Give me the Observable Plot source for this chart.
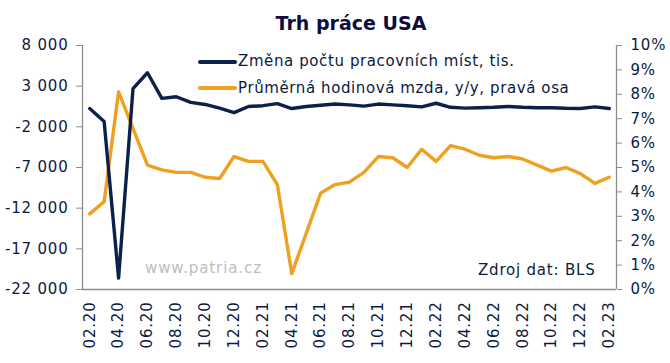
<!DOCTYPE html>
<html>
<head>
<meta charset="utf-8">
<script src="https://cdn.jsdelivr.net/npm/d3@7"></script>
<script src="https://cdn.jsdelivr.net/npm/@observablehq/plot@0.6"></script>
<style>
  body { margin: 0; background: #fff; }
  #wrap { position: relative; width: 670px; height: 363px; font-family: "DejaVu Sans", Verdana, sans-serif; color: #0d1a40; }
  #title { position: absolute; left: 0; top: 0; width: 670px; padding-left: 32px; box-sizing: border-box; height: 36px; line-height: 46px; text-align: center; font-weight: bold; font-size: 19px; color: #0d0d3d; }
  #chart { position: absolute; left: 0; top: 36px; }
  .ov { position: absolute; font-size: 15px; white-space: nowrap; line-height: 18px; letter-spacing: 0.6px; }
  .sw { position: absolute; height: 4px; border-radius: 2px; }
  #chart svg text { letter-spacing: 0.8px; }
</style>
</head>
<body>
<div id="wrap">
  <div id="title">Trh práce USA</div>
  <div id="chart"></div>
  <div class="sw" style="left:198px; top:60px; width:39px; background:#0b2149"></div>
  <div class="ov" style="left:238px; top:52px;">Změna počtu pracovních míst, tis.</div>
  <div class="sw" style="left:198px; top:86px; width:39px; background:#f0a020"></div>
  <div class="ov" style="left:238px; top:79px;">Průměrná hodinová mzda, y/y, pravá osa</div>
  <div class="ov" style="left:145px; top:259px; color:#bdbdbd; letter-spacing:0.9px;">www.patria.cz</div>
  <div class="ov" style="left:478px; top:261px; letter-spacing:0.8px;">Zdroj dat: BLS</div>
</div>
<script>
const months = ["02.20","03.20","04.20","05.20","06.20","07.20","08.20","09.20","10.20","11.20","12.20",
  "01.21","02.21","03.21","04.21","05.21","06.21","07.21","08.21","09.21","10.21","11.21","12.21",
  "01.22","02.22","03.22","04.22","05.22","06.22","07.22","08.22","09.22","10.22","11.22","12.22",
  "01.23","02.23"];
// change in nonfarm payrolls, thousands
const jobs = [250, -1350, -20600, 2700, 4650, 1500, 1700, 1000, 750, 300, -250,
  500, 600, 850, 250, 500, 650, 800, 700, 550, 800, 700, 600,
  450, 900, 400, 300, 350, 400, 500, 400, 350, 350, 280, 250,
  450, 250];
// average hourly earnings, y/y %
const wages = [3.1, 3.6, 8.1, 6.6, 5.1, 4.9, 4.8, 4.8, 4.6, 4.55, 5.45,
  5.25, 5.25, 4.3, 0.65, 2.3, 3.95, 4.3, 4.4, 4.8, 5.45, 5.4, 5.0,
  5.75, 5.25, 5.9, 5.75, 5.5, 5.4, 5.45, 5.35, 5.1, 4.85, 5.0, 4.75,
  4.35, 4.6];
const leftTicks = [8000, 3000, -2000, -7000, -12000, -17000, -22000];
const rightTicks = [0,1,2,3,4,5,6,7,8,9,10];

const yMin = -22000, yMax = 8000;
const toLeft = p => yMin + p * (yMax - yMin) / 10;
const toPct = v => Math.round((v - yMin) / ((yMax - yMin) / 10));

const fmt = d3.formatLocale({thousands: " ", grouping: [3], decimal: ",", minus: "-"}).format(",");

const rows = months.map((m, i) => ({i, m, jobs: jobs[i], wage: wages[i]}));
const navy = "#0b2149", orange = "#f0a020", axisGrey = "#8c8c8c", txt = "#0d1a40";

const chart = Plot.plot({
  width: 670,
  height: 327,
  marginTop: 9,
  marginBottom: 74,
  marginLeft: 82,
  marginRight: 54,
  style: {fontFamily: "DejaVu Sans, Verdana, sans-serif", fontSize: "15px", color: txt, background: "white"},
  x: {type: "linear", domain: [-0.5, months.length - 0.5]},
  y: {domain: [yMin, yMax]},
  marks: [
    Plot.ruleX([-0.5, months.length - 0.5], {stroke: axisGrey, strokeWidth: 1.3}),
    Plot.ruleY([yMin], {stroke: axisGrey, strokeWidth: 1.3}),
    Plot.axisY({anchor: "left", ticks: leftTicks, tickFormat: fmt, tickSize: 6, tickPadding: 8,
      stroke: axisGrey, fill: txt, fontSize: 15, label: null}),
    Plot.axisY({anchor: "right", ticks: rightTicks.map(toLeft), tickFormat: d => toPct(d) + "%",
      tickSize: 5, tickPadding: 9, stroke: axisGrey, fill: txt, fontSize: 15, label: null}),
    Plot.axisX({ticks: d3.range(0, months.length, 2), tickFormat: i => months[i], tickRotate: -90,
      tickSize: 0, tickPadding: 12, fill: txt, fontSize: 15, label: null}),
    Plot.line(rows, {x: "i", y: d => toLeft(d.wage), stroke: orange, strokeWidth: 3.4, strokeLinejoin: "round"}),
    Plot.line(rows, {x: "i", y: "jobs", stroke: navy, strokeWidth: 3.4, strokeLinejoin: "round"})
  ]
});
document.getElementById("chart").appendChild(chart);
</script>
</body>
</html>
